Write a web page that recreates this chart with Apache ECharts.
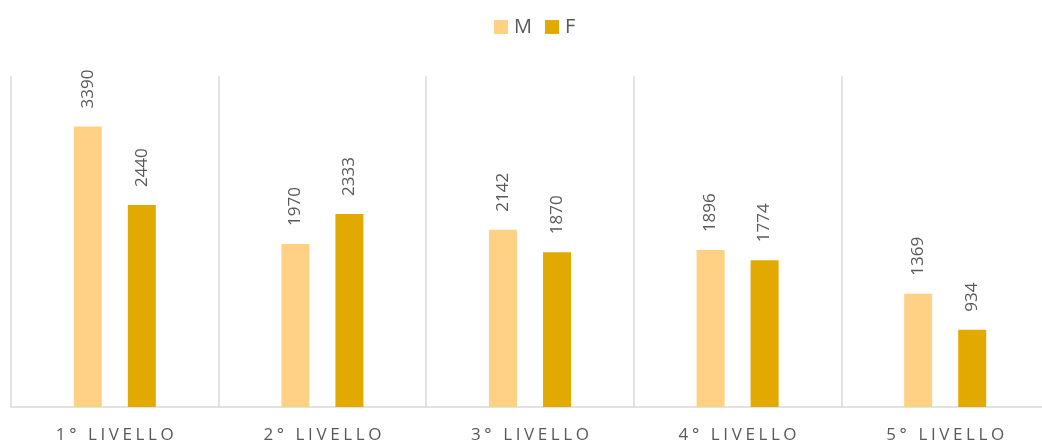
<!DOCTYPE html>
<html>
<head>
<meta charset="utf-8">
<script src="https://cdn.jsdelivr.net/npm/echarts@6/dist/echarts.min.js"></script>
<style>
  html, body { margin: 0; padding: 0; background: #fff; }
  #chart { width: 1042px; height: 443px; }
</style>
</head>
<body>
<div id="chart"></div>
<script>
var categories = ['1° LIVELLO', '2° LIVELLO', '3° LIVELLO', '4° LIVELLO', '5° LIVELLO'];
var maleValues = [3390, 1970, 2142, 1896, 1369];
var femaleValues = [2440, 2333, 1870, 1774, 934];

var FONT = '"Open Sans", "Liberation Sans", sans-serif';

var myChart = echarts.init(document.getElementById('chart'));

var labelStyle = {
  show: true,
  position: 'top',
  rotate: 90,
  distance: 18,
  align: 'left',
  verticalAlign: 'middle',
  color: '#595959',
  fontFamily: FONT,
  fontSize: 17
};

// spaced out axis label, one rich fragment per character
function spaced(value) {
  return value.split('').map(function(ch) {
    return '{s|' + ch + '}';
  }).join('');
}

myChart.setOption({
  animation: false,
  color: ['#FFD185', '#E2AA00'],
  legend: {
    top: 12,
    left: 489,
    itemWidth: 14,
    itemHeight: 14,
    itemGap: 13,
    icon: 'rect',
    textStyle: { color: '#595959', fontFamily: FONT, fontSize: 20, padding: [0, 0, 0, 1] },
    data: ['M', 'F']
  },
  grid: { left: 11, width: 1038, top: 76, bottom: 36, containLabel: false, outerBoundsMode: 'none' },
  xAxis: {
    type: 'category',
    data: categories,
    axisLine: { lineStyle: { color: '#d9d9d9', width: 1.5 } },
    axisTick: { show: false },
    splitLine: { show: true, interval: 0, lineStyle: { color: '#d9d9d9', width: 1.5 } },
    axisLabel: {
      interval: 0,
      margin: 20,
      formatter: spaced,
      rich: {
        s: {
          color: '#595959',
          fontFamily: FONT,
          fontSize: 17,
          padding: [0, 1.8, 0, 1.8]
        }
      }
    }
  },
  yAxis: {
    type: 'value',
    min: 0,
    max: 4000,
    show: false,
    splitLine: { show: false }
  },
  series: [
    { name: 'M', type: 'bar', data: maleValues, barWidth: 28, barGap: '93%', label: labelStyle },
    { name: 'F', type: 'bar', data: femaleValues, barWidth: 28, barGap: '93%', label: labelStyle }
  ]
});
</script>
</body>
</html>
